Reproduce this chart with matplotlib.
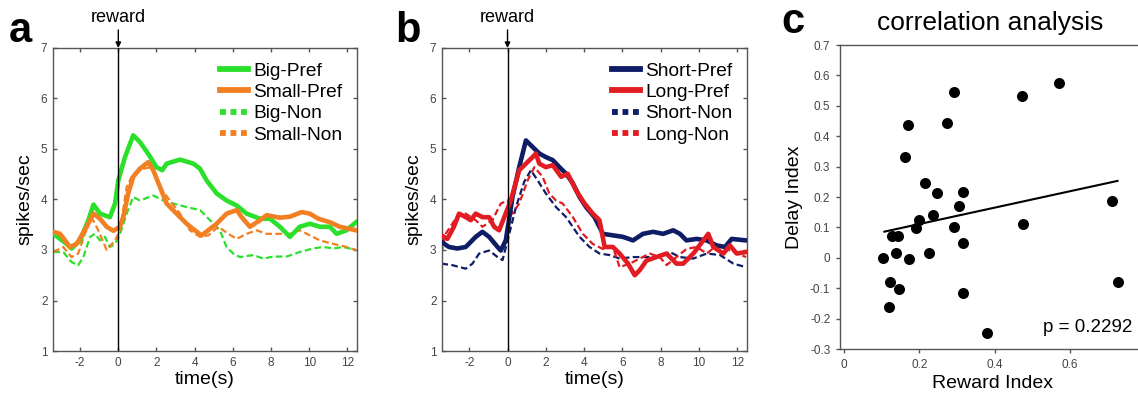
import matplotlib
matplotlib.use("Agg")
import matplotlib.pyplot as plt
import numpy as np

plt.rcParams['font.family'] = ['Liberation Sans', 'DejaVu Sans']
plt.rcParams['axes.unicode_minus'] = False

# ---- panel a: reward size ----
t_big_pref = [-3.4, -2.7, -2.45, -2.0, -1.57, -1.3, -0.96, -0.44, -0.17, 0.0, 0.35, 0.78, 1.13, 1.57,
              2.0, 2.3, 2.53, 3.23, 3.93, 4.28, 4.62, 5.15, 5.67, 6.2, 6.72, 7.42, 7.94, 8.46, 8.99,
              9.5, 10.03, 10.56, 11.08, 11.43, 11.95, 12.45]
big_pref = [3.32, 3.12, 3.03, 3.19, 3.59, 3.9, 3.72, 3.65, 3.92, 4.38, 4.84, 5.27, 5.14, 4.9,
            4.64, 4.58, 4.71, 4.79, 4.71, 4.61, 4.38, 4.12, 3.98, 3.88, 3.72, 3.62, 3.62, 3.46, 3.26,
            3.46, 3.52, 3.46, 3.46, 3.32, 3.39, 3.55]

t_small_pref = [-3.4, -3.05, -2.53, -2.18, -1.66, -1.3, -0.96, -0.61, -0.26, 0.09, 0.26, 0.52, 0.78,
                1.13, 1.57, 1.83, 2.18, 2.53, 3.05, 3.58, 4.01, 4.36, 4.71, 5.15, 5.67, 6.2, 6.46,
                6.89, 7.42, 7.77, 8.46, 8.99, 9.6, 10.03, 10.47, 11.08, 11.6, 12.45]
small_pref = [3.36, 3.32, 3.06, 3.12, 3.46, 3.72, 3.62, 3.46, 3.38, 3.46, 3.65, 4.12, 4.45,
              4.61, 4.74, 4.58, 4.25, 3.92, 3.72, 3.52, 3.39, 3.29, 3.39, 3.52, 3.72, 3.79, 3.65,
              3.46, 3.59, 3.69, 3.64, 3.66, 3.75, 3.72, 3.62, 3.55, 3.46, 3.39]

t_big_non = [-3.4, -2.88, -2.45, -2.1, -1.83, -1.48, -1.22, -0.96, -0.7, -0.44, -0.17, 0.09, 0.44,
             0.78, 1.13, 1.83, 2.36, 2.88, 3.58, 4.28, 4.8, 5.32, 5.67, 6.02, 6.37, 7.07, 7.59,
             8.12, 8.81, 9.5, 10.2, 10.73, 11.26, 11.78, 12.45]
big_non = [2.96, 2.96, 2.76, 2.7, 2.86, 3.26, 3.32, 3.19, 3.26, 3.06, 3.12, 3.32, 3.72,
           4.05, 3.98, 4.08, 3.98, 3.92, 3.85, 3.79, 3.59, 3.39, 3.06, 2.93, 2.86, 2.9, 2.83,
           2.87, 2.87, 2.96, 3.03, 3.06, 3.03, 3.06, 3.0]

t_small_non = [-3.4, -2.88, -2.45, -2.1, -1.75, -1.4, -1.05, -0.61, -0.17, 0.09, 0.44, 0.78, 1.31,
               1.75, 2.18, 2.7, 3.23, 3.75, 4.28, 4.71, 5.24, 5.76, 6.2, 6.72, 7.24, 7.77, 8.29,
               8.99, 9.5, 10.03, 10.56, 11.26, 11.95, 12.45]
small_non = [2.96, 3.06, 2.86, 2.93, 3.32, 3.65, 3.39, 3.0, 3.19, 3.39, 4.25, 4.51, 4.61,
             4.64, 4.25, 3.98, 3.72, 3.39, 3.26, 3.29, 3.46, 3.32, 3.22, 3.32, 3.39, 3.32, 3.32,
             3.32, 3.39, 3.29, 3.19, 3.12, 3.06, 3.0]

# ---- panel b: delay length ----
t_short_pref = [-3.45, -3.06, -2.62, -2.18, -1.66, -1.31, -0.96, -0.52, -0.35, -0.09, 0.26, 0.61,
                0.96, 1.31, 1.66, 2.0, 2.36, 2.71, 3.06, 3.41, 3.76, 4.1, 4.54, 4.98, 5.5, 6.03,
                6.55, 7.07, 7.6, 8.12, 8.65, 9.0, 9.34, 9.87, 10.4, 10.92, 11.35, 11.7, 12.45]
short_pref = [3.16, 3.06, 3.03, 3.06, 3.26, 3.36, 3.26, 3.06, 2.99, 3.19, 4.05, 4.64,
              5.17, 5.04, 4.91, 4.84, 4.78, 4.64, 4.51, 4.32, 4.05, 3.85, 3.65, 3.32, 3.29, 3.26,
              3.19, 3.32, 3.36, 3.32, 3.39, 3.32, 3.19, 3.22, 3.19, 3.09, 3.06, 3.22, 3.19]

t_long_pref = [-3.45, -3.14, -2.8, -2.53, -2.18, -1.92, -1.66, -1.31, -0.96, -0.7, -0.44, -0.17,
               0.17, 0.61, 0.96, 1.31, 1.48, 1.66, 2.0, 2.36, 2.8, 3.14, 3.58, 4.02, 4.45, 4.8,
               5.07, 5.5, 5.85, 6.29, 6.64, 6.9, 7.25, 7.77, 8.3, 8.82, 9.17, 9.7, 10.22, 10.48,
               10.74, 11.27, 11.61, 11.96, 12.45]
long_pref = [3.29, 3.22, 3.46, 3.72, 3.65, 3.59, 3.72, 3.65, 3.65, 3.46, 3.39, 3.65,
             3.98, 4.58, 4.71, 4.84, 4.91, 4.71, 4.64, 4.68, 4.45, 4.51, 4.18, 3.92, 3.72, 3.59,
             3.06, 3.06, 2.93, 2.73, 2.5, 2.6, 2.79, 2.86, 2.93, 2.73, 2.73, 2.93, 3.19, 3.32,
             3.06, 2.93, 3.09, 2.93, 2.96]

t_short_non = [-3.45, -2.88, -2.18, -1.83, -1.48, -0.96, -0.52, -0.26, 0.09, 0.44, 0.87, 1.22,
               1.57, 2.0, 2.53, 3.06, 3.76, 4.28, 4.8, 5.33, 5.85, 6.55, 7.25, 7.95, 8.47, 9.0,
               9.69, 10.4, 11.09, 11.79, 12.45]
short_non = [2.73, 2.7, 2.63, 2.73, 2.93, 2.99, 2.86, 2.8, 3.32, 3.85, 4.35, 4.58,
             4.38, 4.12, 3.85, 3.65, 3.26, 3.06, 2.93, 2.9, 2.83, 2.86, 2.86, 2.86, 2.96, 2.86,
             2.83, 2.93, 2.9, 2.73, 2.66]

t_long_non = [-3.45, -3.23, -2.88, -2.53, -2.18, -1.66, -1.31, -0.79, -0.35, 0.0, 0.26, 0.61,
              1.05, 1.4, 1.83, 2.18, 2.53, 2.88, 3.41, 3.93, 4.45, 4.98, 5.5, 5.85, 6.38, 6.9,
              7.42, 7.95, 8.3, 8.82, 9.34, 9.87, 10.4, 10.92, 11.61, 12.45]
long_non = [2.93, 3.32, 3.52, 3.72, 3.72, 3.59, 3.46, 3.59, 3.92, 3.98, 3.72, 3.92,
            4.38, 4.64, 4.45, 4.12, 3.98, 3.92, 3.65, 3.32, 3.12, 3.02, 3.06, 2.66, 2.73, 2.83,
            2.93, 2.86, 2.7, 2.86, 3.02, 3.06, 2.93, 3.09, 2.99, 2.86]

# ---- panel c: correlation ----
reward_idx = [0.104, 0.118, 0.122, 0.146, 0.127, 0.142, 0.138, 0.162, 0.171, 0.173, 0.191, 0.2,
              0.214, 0.226, 0.237, 0.248, 0.273, 0.293, 0.293, 0.305, 0.315, 0.317, 0.315, 0.381,
              0.474, 0.476, 0.57, 0.713, 0.727]
delay_idx = [0.0, -0.161, -0.079, -0.101, 0.072, 0.072, 0.016, 0.332, 0.436, -0.003, 0.099, 0.124,
             0.245, 0.016, 0.14, 0.212, 0.442, 0.544, 0.1, 0.171, 0.216, 0.049, -0.117, -0.247,
             0.533, 0.111, 0.576, 0.188, -0.079]
fit_x = [0.107, 0.727]
fit_y = [0.086, 0.253]

green = '#2be02b'
orange = '#f27f22'
navy = '#0e1d66'
red = '#e31b23'
grey = '#555555'

fig = plt.figure(figsize=(11.38, 3.94), dpi=100)
W, H = 1138, 394


def px_axes(l, t, r, b):
    return fig.add_axes([l / W, 1 - b / H, (r - l) / W, (b - t) / H])


def psth_axes(ax, series, labels):
    for tt, yy, c, ls in series:
        if ls == '-':
            ax.plot(tt, yy, color=c, lw=3.3, solid_joinstyle='round', zorder=3)
        else:
            ax.plot(tt, yy, color=c, lw=1.6, ls=(0, (3, 1.5)), zorder=2)
    ax.axvline(0, color='black', lw=1, zorder=4)
    ax.set_xlim(-3.42, 12.5)
    ax.set_ylim(1, 7)
    ax.set_xticks([-2, 0, 2, 4, 6, 8, 10, 12])
    ax.set_yticks([1, 2, 3, 4, 5, 6, 7])
    ax.tick_params(direction='in', length=3, width=1, top=True, right=True,
                   labelsize=8.5, labelcolor='#444444', color=grey, pad=4)
    for s in ax.spines.values():
        s.set_color(grey)
        s.set_linewidth(1)
    ax.set_xlabel('time(s)', fontsize=14, labelpad=2)
    ax.set_ylabel('spikes/sec', fontsize=14, labelpad=5)
    handles = ax.get_lines()[:4]
    leg = ax.legend(handles, labels, loc='upper right', frameon=False, fontsize=13.8,
                    handlelength=1.45, handletextpad=0.3, labelspacing=0.2,
                    borderpad=0, borderaxespad=0.75)
    for ln in leg.get_lines():
        ln.set_linewidth(4.2)
        if ln.get_linestyle() != '-':
            ln.set_linestyle((0, (1.0, 0.8)))
    ax.annotate('reward', xy=(0, 7), xycoords='data', xytext=(0, 16), textcoords='offset points',
                ha='center', va='bottom', fontsize=13, annotation_clip=False,
                arrowprops=dict(arrowstyle='-|>', color='black', lw=1, shrinkA=1, shrinkB=0,
                                mutation_scale=8))


ax_a = px_axes(53, 48, 357, 351)
psth_axes(ax_a, [(t_big_pref, big_pref, green, '-'), (t_small_pref, small_pref, orange, '-'),
                 (t_big_non, big_non, green, '--'), (t_small_non, small_non, orange, '--')],
          ['Big-Pref', 'Small-Pref', 'Big-Non', 'Small-Non'])

ax_b = px_axes(442, 48, 747, 351)
psth_axes(ax_b, [(t_short_pref, short_pref, navy, '-'), (t_long_pref, long_pref, red, '-'),
                 (t_short_non, short_non, navy, '--'), (t_long_non, long_non, red, '--')],
          ['Short-Pref', 'Long-Pref', 'Short-Non', 'Long-Non'])

ax_c = px_axes(840, 45, 1145, 349)
ax_c.scatter(reward_idx, delay_idx, s=48, color='black', zorder=3)
ax_c.plot(fit_x, fit_y, color='black', lw=1.5)
ax_c.set_xlim(-0.011, 0.8)
ax_c.set_ylim(-0.3, 0.7)
ax_c.set_xticks([0, 0.2, 0.4, 0.6])
ax_c.set_xticklabels(['0', '0.2', '0.4', '0.6'])
ax_c.set_yticks(np.arange(-0.3, 0.71, 0.1))
ax_c.set_yticklabels(['-0.3', '-0.2', '-0.1', '0', '0.1', '0.2', '0.3', '0.4', '0.5', '0.6', '0.7'])
ax_c.tick_params(direction='out', length=3, width=1, labelsize=8.5, labelcolor='#444444',
                 color=grey, pad=4)
for s in ax_c.spines.values():
    s.set_color(grey)
    s.set_linewidth(1)
ax_c.spines['right'].set_visible(False)
ax_c.set_xlabel('Reward Index', fontsize=14, labelpad=3)
ax_c.set_ylabel('Delay Index', fontsize=14, labelpad=5)
ax_c.text(0.96, 0.07, 'p = 0.2292', transform=ax_c.transAxes, ha='right', va='center', fontsize=13.5)

fig.text(990 / W, 1 - 30 / H, 'correlation analysis', ha='center', va='baseline', fontsize=19)

# panel letters
fig.text(9 / W, 1 - 42 / H, 'a', fontsize=30, fontweight='bold', va='baseline')
fig.text(395 / W, 1 - 42 / H, 'b', fontsize=30, fontweight='bold', va='baseline')
fig.text(781 / W, 1 - 33 / H, 'c', fontsize=30, fontweight='bold', va='baseline')

fig.savefig('out.png', dpi=100)
